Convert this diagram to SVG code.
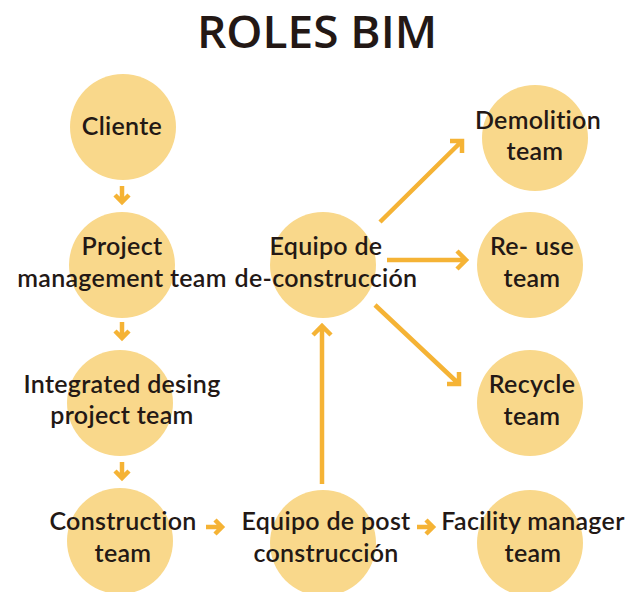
<svg xmlns="http://www.w3.org/2000/svg" width="630" height="592" viewBox="0 0 630 592">
<defs>
<style>
.node circle{fill:#F9D88B;}
.node text{font-family:"Lato","Noto Sans",sans-serif;font-size:25px;font-weight:600;letter-spacing:0.3px;fill:#231815;text-anchor:middle;}
.title{font-family:"Open Sans","Noto Sans",sans-serif;font-size:46px;font-weight:600;fill:#231815;text-anchor:middle;}
.conn path{fill:none;stroke:#F5B335;stroke-width:4.5;stroke-linecap:butt;stroke-linejoin:miter;}
</style>
</defs>
<rect width="630" height="592" fill="#ffffff"/>
<text class="title" x="317" y="48">ROLES BIM</text>
<g id="connectors" class="conn">
<path d="M122 186 V201 M115 195 L122 202 L129 195"/>
<path d="M122 322 V337 M115 331 L122 338 L129 331"/>
<path d="M122 462 V477 M115 471 L122 478 L129 471"/>
<path d="M206 527 H221 M215 520 L222 527 L215 534"/>
<path d="M417 527 H432 M426 520 L433 527 L426 534"/>
<path d="M322 484 V326 M313 335 L322 326 L331 335"/>
<path d="M380 222 L462 141 M450 141 L462 141 L462 153"/>
<path d="M387 260 H466 M457 251 L466 260 L457 269"/>
<path d="M375 305 L459 384 M459 372 L459 384 L447 384"/>
</g>
<g id="cliente" class="node"><circle cx="123" cy="127" r="53"/><text x="122" y="135">Cliente</text></g>
<g id="project" class="node"><circle cx="122" cy="265" r="53"/><text x="122" y="255">Project</text><text x="122" y="287">management team</text></g>
<g id="integrated" class="node"><circle cx="120" cy="403" r="53"/><text x="122" y="393">Integrated desing</text><text x="122" y="424">project team</text></g>
<g id="construction" class="node"><circle cx="120" cy="541" r="53"/><text x="123" y="530">Construction</text><text x="123" y="562">team</text></g>
<g id="post" class="node"><circle cx="323" cy="543" r="53"/><text x="326" y="530">Equipo de post</text><text x="326" y="562">construcción</text></g>
<g id="facility" class="node"><circle cx="530" cy="543" r="53"/><text x="533" y="530">Facility manager</text><text x="533" y="562">team</text></g>
<g id="deconstruccion" class="node"><circle cx="323" cy="265" r="53"/><text x="326" y="255">Equipo de</text><text x="326" y="287">de-construcción</text></g>
<g id="demolition" class="node"><circle cx="535" cy="138" r="53"/><text x="538" y="129">Demolition</text><text x="535" y="160">team</text></g>
<g id="reuse" class="node"><circle cx="530" cy="265" r="53"/><text x="532" y="255">Re- use</text><text x="532" y="287">team</text></g>
<g id="recycle" class="node"><circle cx="530" cy="403" r="53"/><text x="532" y="393">Recycle</text><text x="532" y="425">team</text></g>
</svg>
